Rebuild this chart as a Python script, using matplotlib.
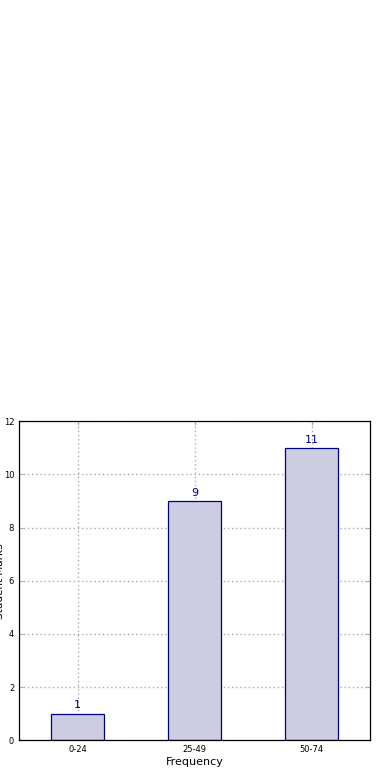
import matplotlib
matplotlib.use("Agg")
import matplotlib.pyplot as plt

categories = ["0-24", "25-49", "50-74"]
counts = [1, 9, 11]
y_ticks = [0, 2, 4, 6, 8, 10, 12]

fig = plt.figure(figsize=(3.9, 7.8), dpi=100)
ax = fig.add_axes([0.049, 0.051, 0.9, 0.409])

x = list(range(len(categories)))
bars = ax.bar(x, counts, width=0.45, color="#ccccE3", edgecolor="navy", linewidth=0.9, zorder=2)
for xi, v in zip(x, counts):
    ax.text(xi, v + 0.12, str(v), ha="center", va="bottom", color="navy", fontsize=8)

ax.set_xlim(-0.5, 2.5)
ax.set_ylim(0, 12)
ax.set_yticks(y_ticks)
ax.set_xticks(x)
ax.set_xticklabels(categories)
ax.tick_params(direction="in", top=True, right=True, labelsize=6, length=3, width=0.8, color="#aaaaaa")
ax.grid(True, linestyle=(0, (1, 2)), color="#aaaaaa", linewidth=1.0, zorder=3)
for s in ax.spines.values():
    s.set_linewidth(0.9)
ax.set_xlabel("Frequency", fontsize=8, labelpad=2)
ax.set_ylabel("Student Marks", fontsize=7.5)
ax.yaxis.set_label_coords(-0.041, 0.5)

fig.savefig("out.png", dpi=100)
